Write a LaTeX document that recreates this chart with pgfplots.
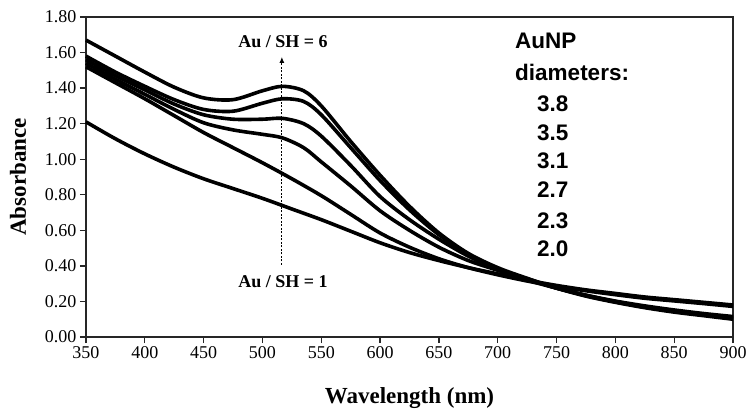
\documentclass[border=0pt]{standalone}
\usepackage{pgfplots}
\pgfplotsset{compat=1.18}
\usepackage{pgfplotstable}
\usepackage{fontspec}
\setmainfont{Liberation Serif}
\newfontfamily\arialfont{Liberation Sans}
\usetikzlibrary{arrows.meta}

% peaked spectra (largest particles)
\pgfplotstableread{
wl   A      B      C      D
350  1.67   1.58   1.56   1.54
375  1.58   1.49   1.47   1.45
400  1.49   1.41   1.39   1.365
425  1.405  1.335  1.31   1.28
450  1.345  1.28   1.25   1.205
475  1.335  1.27   1.225  1.165
500  1.385  1.315  1.225  1.14
517  1.41   1.34   1.23   1.12
535  1.385  1.325  1.20   1.065
550  1.30   1.25   1.13   0.985
575  1.10   1.065  0.965  0.85
600  0.91   0.88   0.79   0.71
625  0.735  0.715  0.66   0.60
650  0.585  0.575  0.55   0.505
675  0.47   0.465  0.455  0.43
700  0.39   0.385  0.38   0.375
725  0.33   0.328  0.325  0.32
750  0.275  0.276  0.275  0.275
775  0.23   0.232  0.235  0.235
800  0.195  0.198  0.20   0.202
825  0.165  0.168  0.17   0.175
850  0.14   0.144  0.148  0.152
875  0.12   0.124  0.128  0.132
900  0.10   0.105  0.11   0.115
}\peaked

% featureless spectra (smallest particles)
\pgfplotstableread{
wl   E      F
350  1.52   1.21
375  1.43   1.115
400  1.34   1.03
425  1.245  0.955
450  1.15   0.89
475  1.065  0.835
500  0.98   0.78
525  0.89   0.72
550  0.795  0.66
575  0.69   0.595
600  0.585  0.53
625  0.505  0.475
650  0.44   0.43
675  0.39   0.39
700  0.35   0.355
725  0.315  0.32
750  0.285  0.29
775  0.26   0.265
800  0.238  0.245
825  0.218  0.225
850  0.203  0.21
875  0.188  0.195
900  0.172  0.18
}\flat

\begin{document}
\begin{tikzpicture}
\begin{axis}[
  scale only axis, width=647pt, height=320pt,
  xmin=350, xmax=900, ymin=0, ymax=1.8,
  xtick={350,400,450,500,550,600,650,700,750,800,850,900},
  ytick={0,0.2,0.4,0.6,0.8,1.0,1.2,1.4,1.6,1.8},
  yticklabel style={/pgf/number format/.cd, fixed, fixed zerofill, precision=2},
  xticklabel style={/pgf/number format/1000 sep={}},
  /pgf/number format/assume math mode=true,
  tick label style={font=\fontsize{18}{20}\selectfont},
  tick align=outside, xtick pos=lower, ytick pos=left,
  major tick length=6pt,
  axis line style={line width=1.5pt, black!85},
  tick style={line width=1.3pt, black!85},
  xlabel={Wavelength (nm)}, ylabel={Absorbance},
  label style={font=\fontsize{23}{26}\selectfont\bfseries},
  xlabel style={at={(axis description cs:0.5,-0.1906)}, anchor=center},
  ylabel style={at={(axis description cs:-0.1051,0.5)}, anchor=center},
  clip=false,
]
\foreach \c in {A,B,C,D}{
  \addplot[black, line width=3.6pt, smooth] table[x=wl, y=\c]{\peaked};
}
\foreach \c in {E,F}{
  \addplot[black, line width=3.6pt, smooth] table[x=wl, y=\c]{\flat};
}
\addplot[black, line width=0.8pt, dash pattern=on 2pt off 1.5pt, -{Latex[length=6pt,width=5pt]}]
  coordinates {(516.5,0.405) (516.5,1.575)};
\node[anchor=base, inner sep=0pt, font=\fontsize{18}{20}\selectfont\bfseries] at (axis cs:517.4,1.631) {Au / SH = 6};
\node[anchor=base, inner sep=0pt, font=\fontsize{18}{20}\selectfont\bfseries] at (axis cs:517.4,0.276) {Au / SH = 1};
\node[anchor=base west, inner sep=0pt, font=\arialfont\bfseries\fontsize{22.5}{25}\selectfont] at (axis cs:714.7,1.6256) {AuNP};
\node[anchor=base west, inner sep=0pt, font=\arialfont\bfseries\fontsize{22.5}{25}\selectfont] at (axis cs:714.7,1.440) {diameters:};
\node[anchor=base west, inner sep=0pt, font=\arialfont\bfseries\fontsize{22.5}{25}\selectfont] at (axis cs:733.4,1.271) {3.8};
\node[anchor=base west, inner sep=0pt, font=\arialfont\bfseries\fontsize{22.5}{25}\selectfont] at (axis cs:733.4,1.108) {3.5};
\node[anchor=base west, inner sep=0pt, font=\arialfont\bfseries\fontsize{22.5}{25}\selectfont] at (axis cs:733.4,0.945) {3.1};
\node[anchor=base west, inner sep=0pt, font=\arialfont\bfseries\fontsize{22.5}{25}\selectfont] at (axis cs:733.4,0.782) {2.7};
\node[anchor=base west, inner sep=0pt, font=\arialfont\bfseries\fontsize{22.5}{25}\selectfont] at (axis cs:733.4,0.613) {2.3};
\node[anchor=base west, inner sep=0pt, font=\arialfont\bfseries\fontsize{22.5}{25}\selectfont] at (axis cs:733.4,0.450) {2.0};
\end{axis}
\pgfresetboundingbox
\path[use as bounding box] ([shift={(-86pt,-72pt)}]current axis.south west) rectangle ([shift={(16pt,17pt)}]current axis.north east);
\end{tikzpicture}
\end{document}
